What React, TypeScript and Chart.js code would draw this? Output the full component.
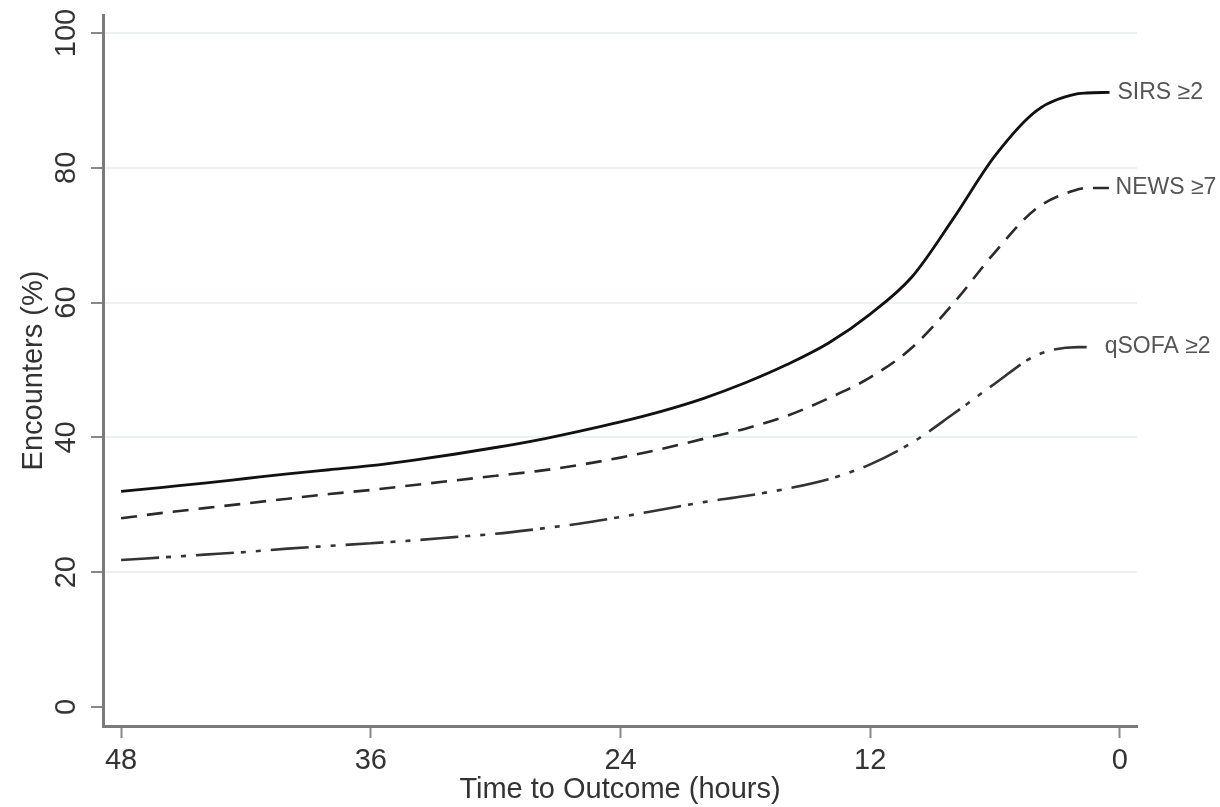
import React, { useEffect, useRef } from "react";
import { Chart, registerables } from "chart.js";

Chart.register(...registerables);

// Hours before outcome (x), and percent of encounters meeting each criterion (y)
const hours = [48, 46, 44, 42, 40, 38, 36, 34, 32, 30, 28, 26, 24, 22, 20, 18, 16, 14, 12, 10, 8, 6, 4, 2, 1.6, 0.5];
const sirs = [32.0, 32.6, 33.2, 33.9, 34.6, 35.2, 35.8, 36.6, 37.5, 38.5, 39.6, 40.9, 42.3, 43.9, 45.8, 48.1, 50.8, 54.0, 58.3, 63.8, 72.5, 81.8, 88.5, 91.0, 91.1, 91.2];
const news = [28.0, 28.8, 29.5, 30.2, 30.9, 31.6, 32.2, 32.9, 33.6, 34.3, 35.0, 35.9, 37.0, 38.3, 39.8, 41.3, 43.2, 45.8, 48.9, 53.3, 59.9, 67.5, 74.0, 76.8, 77.0, 77.0];
const qsofa = [21.8, 22.2, 22.6, 23.0, 23.5, 23.9, 24.3, 24.7, 25.2, 25.7, 26.4, 27.2, 28.2, 29.3, 30.4, 31.3, 32.4, 33.8, 36.0, 39.2, 43.5, 48.0, 52.2, 53.4, 53.4, null];

const seriesLabels = ["SIRS \u22652", "NEWS \u22657", "qSOFA \u22652"];
const xTicks = [48, 36, 24, 12, 0];
const yTicks = [0, 20, 40, 60, 80, 100];
const xTitle = "Time to Outcome (hours)";
const yTitle = "Encounters (%)";

const FONT = "'Liberation Sans', Arial, Helvetica, sans-serif";

export default function App() {
  const ref = useRef<HTMLCanvasElement | null>(null);

  useEffect(() => {
    const canvas = ref.current;
    if (!canvas) return;

    const toPts = (arr: (number | null)[]) => hours.map((h, i) => ({ x: h, y: arr[i] }));
    const labelOffsets = [8, 6, 18];

    const endLabels = {
      id: "endLabels",
      afterDatasetsDraw(chart: any) {
        const ctx = chart.ctx;
        ctx.save();
        ctx.font = `23px ${FONT}`;
        ctx.fillStyle = "#555";
        ctx.textBaseline = "middle";
        ctx.textAlign = "left";
        chart.data.datasets.forEach((ds: any, i: number) => {
          const meta = chart.getDatasetMeta(i);
          let last = -1;
          ds.data.forEach((p: any, j: number) => {
            if (p && p.y !== null && p.y !== undefined) last = j;
          });
          const el = meta.data[last];
          if (el) ctx.fillText(seriesLabels[i], el.x + labelOffsets[i], el.y);
        });
        ctx.restore();
      },
    };

    const yLabels = {
      id: "yLabels",
      afterDraw(chart: any) {
        const ctx = chart.ctx;
        const s = chart.scales.y;
        ctx.save();
        ctx.font = `29px ${FONT}`;
        ctx.fillStyle = "#333";
        ctx.textAlign = "center";
        ctx.textBaseline = "middle";
        yTicks.forEach((v) => {
          const py = s.getPixelForValue(v);
          ctx.save();
          ctx.translate(67, py);
          ctx.rotate(-Math.PI / 2);
          ctx.fillText(String(v), 0, 0);
          ctx.restore();
        });
        ctx.restore();
      },
    };

    const chart = new Chart(canvas, {
      type: "line",
      data: {
        datasets: [
          {
            label: seriesLabels[0],
            data: toPts(sirs),
            borderColor: "#111",
            borderWidth: 2.8,
            pointRadius: 0,
            fill: false,
            cubicInterpolationMode: "monotone",
          },
          {
            label: seriesLabels[1],
            data: toPts(news),
            borderColor: "#2a2a2a",
            borderWidth: 2.6,
            borderDash: [16, 10],
            pointRadius: 0,
            fill: false,
            cubicInterpolationMode: "monotone",
          },
          {
            label: seriesLabels[2],
            data: toPts(qsofa),
            borderColor: "#333",
            borderWidth: 2.6,
            borderDash: [38, 7, 5, 10, 5, 10],
            pointRadius: 0,
            fill: false,
            cubicInterpolationMode: "monotone",
          },
        ] as any,
      },
      options: {
        responsive: false,
        animation: false,
        devicePixelRatio: 1,
        layout: { padding: { top: 15, right: 83, left: 0, bottom: 0 } },
        plugins: {
          legend: { display: false },
          tooltip: { enabled: false },
        },
        scales: {
          x: {
            type: "linear",
            reverse: true,
            min: -0.82,
            max: 48.87,
            afterBuildTicks: (scale: any) => {
              scale.ticks = xTicks.map((v) => ({ value: v }));
            },
            afterFit: (scale: any) => {
              scale.height = 81;
            },
            grid: {
              drawOnChartArea: false,
              drawTicks: true,
              tickLength: 12,
              tickColor: "#888",
              tickWidth: 2,
            },
            border: { display: true, color: "#7a7a7a", width: 3 },
            ticks: {
              autoSkip: false,
              maxRotation: 0,
              padding: 6,
              color: "#333",
              font: { family: FONT, size: 29 },
              callback: (v: any) => String(v),
            },
            title: {
              display: true,
              text: xTitle,
              color: "#333",
              font: { family: FONT, size: 29 },
              padding: { top: 0, bottom: 0 },
            },
          },
          y: {
            type: "linear",
            min: -2.82,
            max: 102.67,
            afterBuildTicks: (scale: any) => {
              scale.ticks = yTicks.map((v) => ({ value: v }));
            },
            afterFit: (scale: any) => {
              scale.width = 103;
            },
            grid: {
              drawOnChartArea: true,
              drawTicks: true,
              tickLength: 12,
              tickColor: "#888",
              tickWidth: 2,
              lineWidth: 2,
              color: (c: any) => (c.tick && c.tick.value === 0 ? "rgba(0,0,0,0)" : "#eef1f1"),
            },
            border: { display: true, color: "#7a7a7a", width: 3 },
            ticks: { display: false },
            title: {
              display: true,
              text: yTitle,
              color: "#333",
              font: { family: FONT, size: 29 },
              padding: { top: 17, bottom: 0 },
            },
          },
        },
      } as any,
      plugins: [endLabels, yLabels],
    });

    return () => chart.destroy();
  }, []);

  return (
    <div style={{ position: "fixed", left: 0, top: 0, width: 1220, height: 807, background: "#fff" }}>
      <canvas ref={ref} width={1220} height={807} style={{ width: 1220, height: 807, display: "block" }} />
    </div>
  );
}
